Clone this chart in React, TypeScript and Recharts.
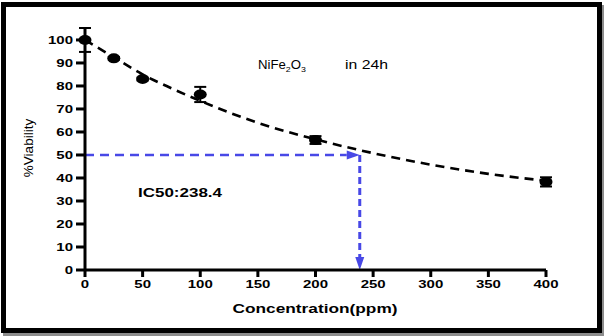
import { ComposedChart, Line, Scatter, ErrorBar, XAxis, YAxis, ReferenceLine } from 'recharts';

// measured points (mean ± error)
const pointX = [0, 25, 50, 100, 200, 400];
const pointY = [100, 92, 83, 76.3, 56.5, 38.3];
const pointErr = [5.2, 0.6, 0.6, 3.3, 1.7, 2];

// fitted curve
const fitX = [0, 25, 50, 75, 100, 150, 200, 250, 300, 350, 400];
const fitY = [100, 92.5, 85, 79, 73.5, 64, 56.8, 50.8, 45.8, 41.8, 38.8];

const xTicks = [0, 50, 100, 150, 200, 250, 300, 350, 400];
const yTicks = [0, 10, 20, 30, 40, 50, 60, 70, 80, 90, 100];

const IC50 = 238.4;
const HALF = 50;

const points = pointX.map((x, i) => ({ x, v: pointY[i], err: pointErr[i] }));
const fit = fitX.map((x, i) => ({ x, v: fitY[i] }));

const FONT = '"Liberation Sans", Arial, sans-serif';
const BLUE = '#4848e6';

const XTick = ({ x, y, payload }: any) => (
  <text
    transform={`translate(${x},${y}) scale(1.36,1)`}
    y={8}
    textAnchor="middle"
    fontFamily={FONT}
    fontWeight="bold"
    fontSize={11}
    fill="#000"
  >
    {payload.value}
  </text>
);

const YTick = ({ x, y, payload }: any) => (
  <text
    transform={`translate(${x},${y}) scale(1.36,1)`}
    y={4}
    textAnchor="end"
    fontFamily={FONT}
    fontWeight="bold"
    fontSize={11}
    fill="#000"
  >
    {payload.value}
  </text>
);

const Dot = ({ cx, cy }: any) => <ellipse cx={cx} cy={cy} rx={6.5} ry={5} fill="#000" />;

// dashed guide with a filled arrow head at its end
const arrowLine = (dash: string, width: number) => (p: any) => {
  const { x1, y1, x2, y2 } = p;
  const dx = x2 - x1;
  const dy = y2 - y1;
  const len = Math.hypot(dx, dy) || 1;
  const ux = dx / len;
  const uy = dy / len;
  const L = 13;
  const W = 4.5;
  const bx = x2 - ux * L;
  const by = y2 - uy * L;
  const pts = `${x2},${y2} ${bx - uy * W},${by + ux * W} ${bx + uy * W},${by - ux * W}`;
  return (
    <g>
      <line x1={x1} y1={y1} x2={bx} y2={by} stroke={BLUE} strokeWidth={width} strokeDasharray={dash} />
      <polygon points={pts} fill={BLUE} />
    </g>
  );
};

export default function App() {
  return (
    <div style={{ position: 'absolute', left: 0, top: 0, width: 604, height: 336, background: '#fff' }}>
      <div
        style={{
          position: 'absolute',
          left: 1,
          top: 2,
          width: 601,
          height: 331,
          border: '5px solid #000',
          boxSizing: 'border-box',
          boxShadow: '2px 3px 0 #8c8c8c',
          background: '#fff',
        }}
      />
      <div style={{ position: 'absolute', left: 0, top: 0 }}>
        <ComposedChart width={604} height={336} margin={{ top: 28, right: 58, bottom: 0, left: 0 }}>
          <XAxis
            dataKey="x"
            type="number"
            domain={[0, 400]}
            ticks={xTicks}
            interval={0}
            height={66}
            tickSize={7}
            tickMargin={3}
            axisLine={{ stroke: '#000', strokeWidth: 3 }}
            tickLine={{ stroke: '#000', strokeWidth: 3 }}
            tick={<XTick />}
          />
          <YAxis
            type="number"
            domain={[0, 105.2]}
            ticks={yTicks}
            interval={0}
            width={85}
            tickSize={9}
            tickMargin={3}
            axisLine={{ stroke: '#000', strokeWidth: 3 }}
            tickLine={{ stroke: '#000', strokeWidth: 3 }}
            tick={<YTick />}
          />
          <Line
            data={fit}
            dataKey="v"
            type="monotone"
            stroke="#000"
            strokeWidth={2.6}
            strokeDasharray="9 6"
            dot={false}
            activeDot={false}
            isAnimationActive={false}
          />
          <ReferenceLine
            segment={[{ x: 0, y: HALF }, { x: IC50, y: HALF }]}
            shape={arrowLine('9 6', 2.6)}
          />
          <ReferenceLine
            segment={[{ x: IC50, y: HALF }, { x: IC50, y: 0 }]}
            shape={arrowLine('7 4', 3)}
          />
          <Scatter data={points} dataKey="v" shape={<Dot />} isAnimationActive={false}>
            <ErrorBar dataKey="err" direction="y" width={6} stroke="#000" strokeWidth={2} isAnimationActive={false} />
          </Scatter>

          <text transform="translate(33,148) rotate(-90)" textAnchor="middle" fontFamily={FONT} fontSize={13.5} fill="#000">
            %Viability
          </text>
          <text x={315} y={313} textAnchor="middle" fontFamily={FONT} fontWeight="bold" fontSize={13} fill="#000" textLength={165} lengthAdjust="spacingAndGlyphs">
            Concentration(ppm)
          </text>
          <text x={138} y={197} fontFamily={FONT} fontWeight="bold" fontSize={12.5} fill="#000" textLength={84} lengthAdjust="spacingAndGlyphs">
            IC50:238.4
          </text>
          <text transform="translate(258,69) scale(1.1,1)" fontFamily={FONT} fontSize={12} fill="#000">
            <tspan>NiFe</tspan>
            <tspan fontSize={8} dy={3}>2</tspan>
            <tspan dy={-3}>O</tspan>
            <tspan fontSize={8} dy={3}>3</tspan>
          </text>
          <text x={345} y={69} fontFamily={FONT} fontSize={12} fill="#000" textLength={43} lengthAdjust="spacingAndGlyphs">
            in 24h
          </text>
        </ComposedChart>
      </div>
    </div>
  );
}
